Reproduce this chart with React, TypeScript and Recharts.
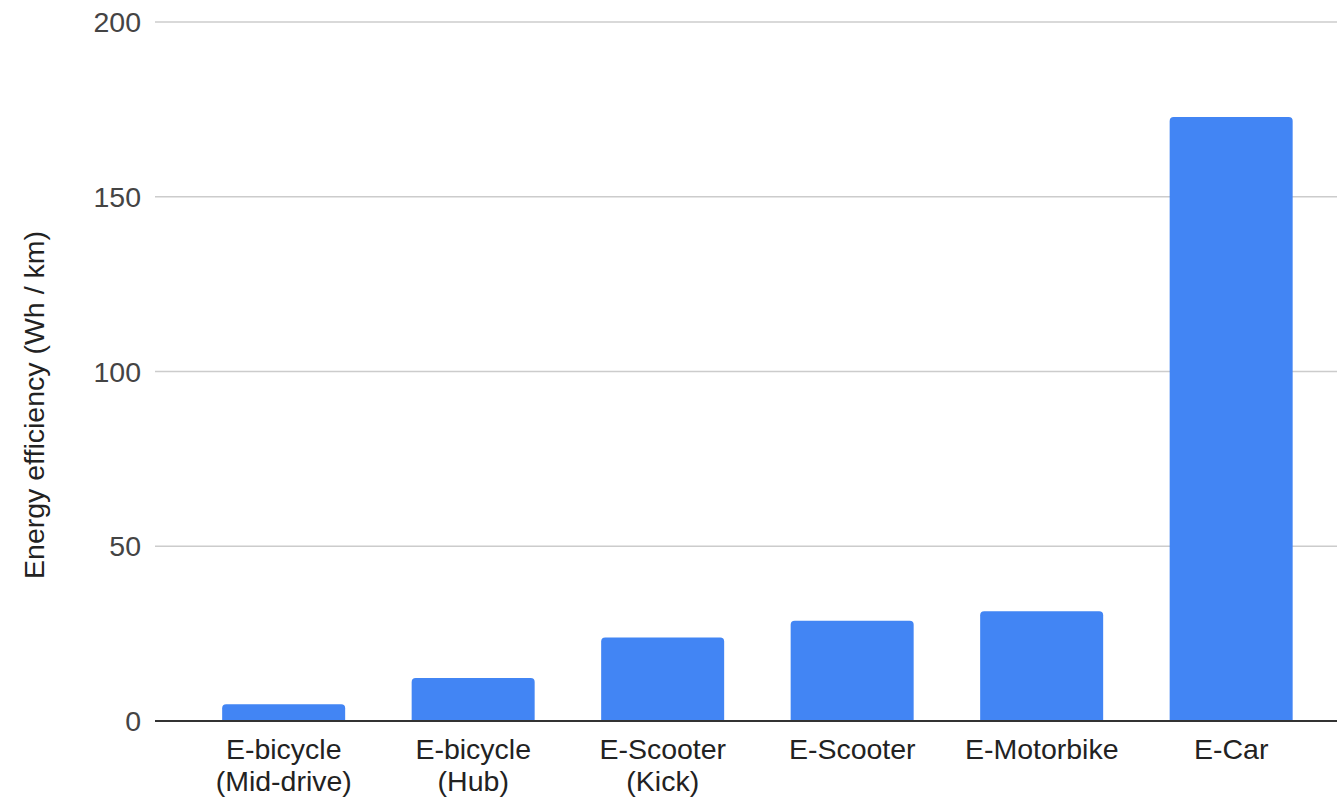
import { BarChart, Bar, XAxis, YAxis, CartesianGrid, ReferenceLine } from "recharts";

// vehicle types, two-line labels split on "\n"
const vehicles = [
  "E-bicycle\n(Mid-drive)",
  "E-bicycle\n(Hub)",
  "E-Scooter\n(Kick)",
  "E-Scooter",
  "E-Motorbike",
  "E-Car",
];

// Wh per km
const whPerKm = [4.8, 12.3, 23.9, 28.7, 31.4, 172.8];

const yTicks = [0, 50, 100, 150, 200];

const data = vehicles.map((name, i) => ({ name, value: whPerKm[i] }));

const FONT = "'Liberation Sans', Arial, sans-serif";
const FONT_SIZE = 28.5;

const CategoryTick = (props: any) => {
  const { x, y, payload } = props;
  const lines: string[] = String(payload.value).split("\n");
  return (
    <text x={x} y={y} textAnchor="middle" fontFamily={FONT} fontSize={FONT_SIZE} fill="#222">
      {lines.map((line, i) => (
        <tspan key={i} x={x} dy={i === 0 ? 30 : 32}>
          {line}
        </tspan>
      ))}
    </text>
  );
};

const ValueTick = (props: any) => {
  const { x, y, payload } = props;
  return (
    <text x={x} y={y} dy={10} textAnchor="end" fontFamily={FONT} fontSize={FONT_SIZE} fill="#444">
      {payload.value}
    </text>
  );
};

const AxisTitle = () => (
  <text
    x={44}
    y={405}
    transform="rotate(-90, 44, 405)"
    textAnchor="middle"
    fontFamily={FONT}
    fontSize={FONT_SIZE}
    fill="#222"
  >
    Energy efficiency (Wh / km)
  </text>
);

export default function App() {
  return (
    <div style={{ position: "absolute", left: 0, top: 0, background: "#fff" }}>
      <BarChart
        width={1337}
        height={799}
        data={data}
        margin={{ top: 22, right: 0, left: 0, bottom: 0 }}
        barCategoryGap="17.5%"
      >
        <CartesianGrid horizontal vertical={false} stroke="#cccccc" strokeWidth={1.5} />
        <XAxis
          dataKey="name"
          height={78}
          axisLine={false}
          tickLine={false}
          interval={0}
          padding={{ left: 34, right: 11 }}
          tick={<CategoryTick />}
        />
        <YAxis
          width={155}
          domain={[0, 200]}
          ticks={yTicks}
          axisLine={false}
          tickLine={false}
          tickSize={0}
          tickMargin={14}
          tick={<ValueTick />}
        />
        <Bar dataKey="value" fill="#4285f4" radius={[4, 4, 0, 0]} isAnimationActive={false} />
        <ReferenceLine y={0} stroke="#333" strokeWidth={2} />
        <AxisTitle />
      </BarChart>
    </div>
  );
}
